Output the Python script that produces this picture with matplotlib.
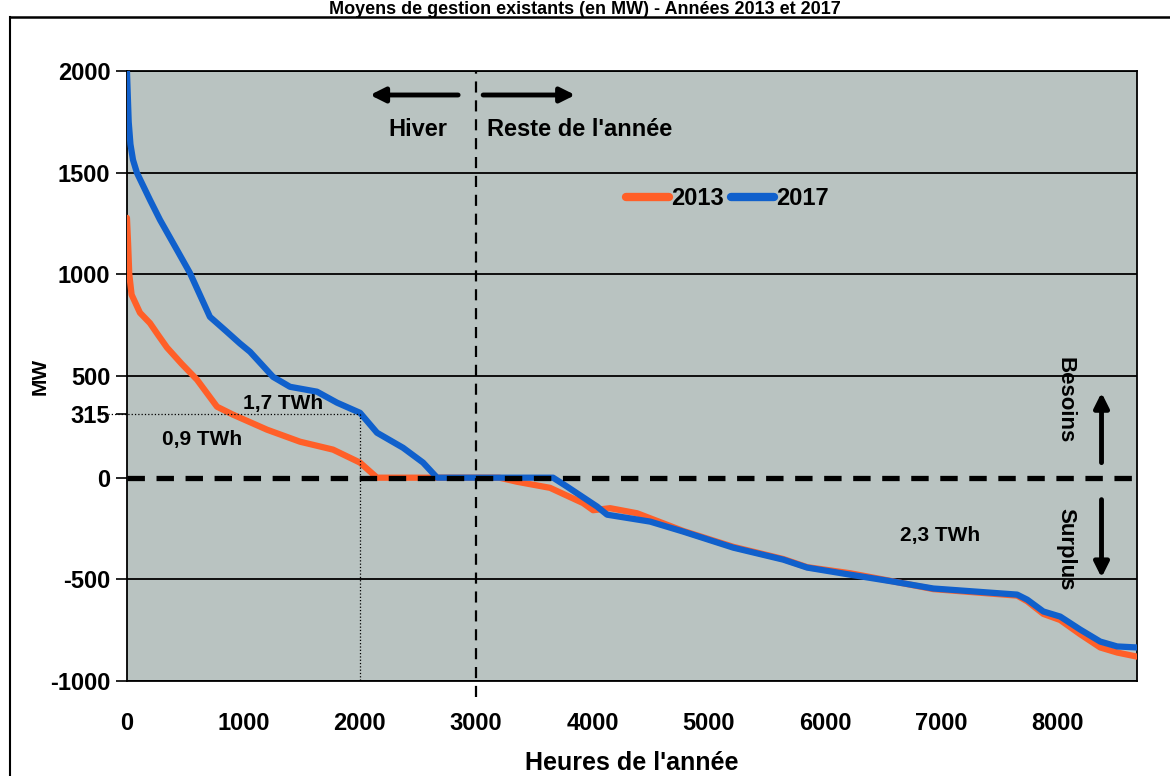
import matplotlib.pyplot as plt
from matplotlib.lines import Line2D

# Monotone courbe des besoins / surplus, 2013 et 2017
plt.rcParams['font.family'] = ['Liberation Sans', 'DejaVu Sans']
plt.rcParams['font.weight'] = 'bold'
plt.rcParams['axes.unicode_minus'] = False

x_2013 = [0, 10, 20, 40, 112, 198, 270, 344, 470, 602, 774, 911, 1204, 1487, 1771, 2003, 2149,
          3200, 3352, 3636, 3920, 4006, 4152, 4384, 4780, 5210, 5640, 5845, 6215, 6585,
          6929, 7650, 7737, 7875, 8020, 8192, 8364, 8510, 8680]
y_2013 = [1278, 1150, 1000, 900, 811, 760, 700, 640, 560, 482, 349, 310, 236, 177, 138, 74, 0,
          0, -20, -50, -125, -160, -150, -175, -262, -340, -400, -440, -470, -510,
          -548, -580, -608, -670, -700, -770, -835, -860, -880]

x_2017 = [0, 15, 30, 52, 86, 198, 284, 430, 541, 713, 850, 971, 1058, 1255, 1401, 1633, 1805,
          2003, 2149, 2373, 2545, 2665, 3662, 3782, 4040, 4126, 4496, 4780, 5210, 5640,
          5845, 6215, 6585, 6929, 7650, 7737, 7875, 8020, 8192, 8364, 8510, 8680]
y_2017 = [2000, 1750, 1640, 1563, 1499, 1366, 1268, 1120, 1007, 791, 722, 660, 619, 496, 447,
          423, 369, 319, 221, 147, 74, 0, 0, -44, -142, -182, -216, -265, -344, -403,
          -442, -477, -511, -545, -575, -600, -658, -683, -747, -806, -830, -835]

y_ticks = [-1000, -500, 0, 315, 500, 1000, 1500, 2000]
x_ticks = [0, 1000, 2000, 3000, 4000, 5000, 6000, 7000, 8000]

fig = plt.figure(figsize=(11.7, 7.76), dpi=100)
ax = fig.add_axes([0.1085, 0.1224, 0.8633, 0.7861])
ax.set_facecolor('#b9c3c1')
ax.set_xlim(0, 8680)
ax.set_ylim(-1000, 2000)

for v in [-1000, -500, 500, 1000, 1500, 2000]:
    ax.axhline(v, color='black', lw=1.3, zorder=1)

ax.plot(x_2013, y_2013, color='#ff5f28', lw=4.5, zorder=3, label='2013', solid_capstyle='round')
ax.plot(x_2017, y_2017, color='#1060cc', lw=4.5, zorder=4, label='2017', solid_capstyle='round')

ax.axhline(0, color='black', lw=3.8, dashes=(3.3, 2.2), zorder=5)
ax.plot([3000, 3000], [-1080, 2000], color='black', lw=1.6, dashes=(5, 3.5),
        zorder=5, clip_on=False)
ax.plot([-250, 2000], [315, 315], color='black', lw=0.9, ls=':', zorder=5, clip_on=False)
ax.plot([2000, 2000], [315, -1000], color='black', lw=0.9, ls=':', zorder=5)

ax.set_yticks(y_ticks)
ax.set_xticks(x_ticks)
ax.tick_params(axis='y', length=8, width=1.2, pad=4, labelsize=17)
ax.tick_params(axis='x', length=0, pad=22, labelsize=17)
for s in ax.spines.values():
    s.set_color('black')
    s.set_linewidth(1.3)

ax.set_ylabel('MW', fontsize=15, fontweight='bold', labelpad=0)
ax.set_xlabel("Heures de l'année", fontsize=18, fontweight='bold', labelpad=12)

# annotations
ax.text(2502, 1710, 'Hiver', fontsize=17, ha='center', va='center')
ax.text(3095, 1710, "Reste de l'année", fontsize=17, ha='left', va='center')
arrow = dict(arrowstyle='-|>', lw=3.5, color='black', mutation_scale=22, shrinkA=0, shrinkB=0)
ax.annotate('', xy=(2089, 1882), xytext=(2846, 1882), arrowprops=arrow)
ax.annotate('', xy=(3852, 1882), xytext=(3061, 1882), arrowprops=arrow)
ax.annotate('', xy=(8375, 418), xytext=(8375, 74), arrowprops=arrow)
ax.annotate('', xy=(8375, -491), xytext=(8375, -108), arrowprops=arrow)
ax.text(8065, 383, 'Besoins', fontsize=16, rotation=270, ha='center', va='center')
ax.text(8065, -354, 'Surplus', fontsize=16, rotation=270, ha='center', va='center')
ax.text(1341, 364, '1,7 TWh', fontsize=15, ha='center', va='center')
ax.text(645, 187, '0,9 TWh', fontsize=15, ha='center', va='center')
ax.text(6990, -285, '2,3 TWh', fontsize=15, ha='center', va='center')

leg = ax.legend(loc='center left', bbox_to_anchor=(4190, 1371), bbox_transform=ax.transData,
                ncol=2, frameon=False, fontsize=17, handlelength=1.8, handletextpad=0.1,
                columnspacing=0.3, borderpad=0)
for h in leg.get_lines():
    h.set_linewidth(6)

fig.text(0.5, 1 - 1 / 776, 'Moyens de gestion existants (en MW) - Années 2013 et 2017',
         fontsize=13, ha='center', va='top')
fig.add_artist(Line2D([10 / 1170, 10 / 1170], [0, 1 - 17 / 776], color='black', lw=1.5))
fig.add_artist(Line2D([10 / 1170, 1], [1 - 17 / 776, 1 - 17 / 776], color='black', lw=1.8))

fig.savefig('out.png', dpi=100)
